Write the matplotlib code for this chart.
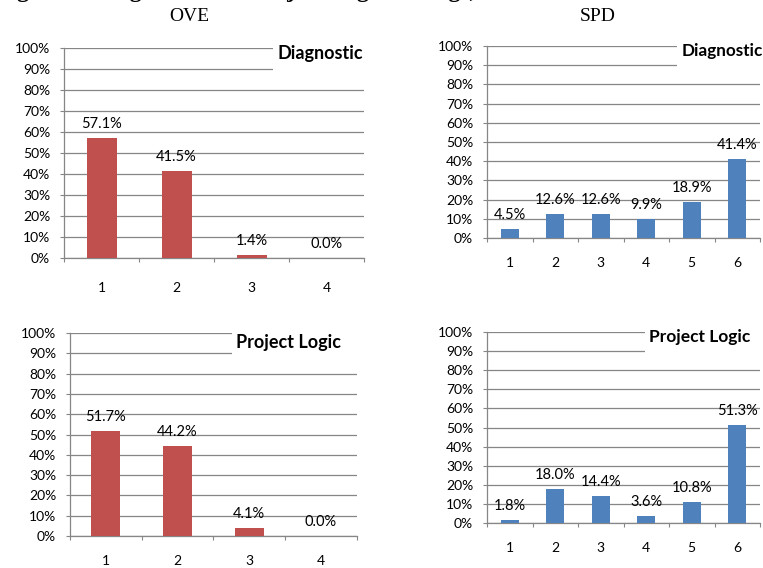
import matplotlib
matplotlib.use('Agg')
import matplotlib.pyplot as plt
from matplotlib.patches import Rectangle
import numpy as np

plt.rcParams['font.family'] = ['Lato', 'DejaVu Sans']

# rating shares (%) per score category
ove_cats = ['1', '2', '3', '4']
spd_cats = ['1', '2', '3', '4', '5', '6']
ove_diagnostic = [57.1, 41.5, 1.4, 0.0]
ove_logic = [51.7, 44.2, 4.1, 0.0]
spd_diagnostic = [4.5, 12.6, 12.6, 9.9, 18.9, 41.4]
spd_logic = [1.8, 18.0, 14.4, 3.6, 10.8, 51.3]
y_ticks = list(range(0, 101, 10))

RED = '#C0504D'
BLUE = '#4F81BD'
GRID = '#868686'


def panel(rect, cats, vals, color, label, box_x, label_y, xpad, label_size):
    ax = fig.add_axes(rect)
    n = len(cats)
    x = np.arange(1, n + 1)
    ax.bar(x, vals, width=0.4, color=color, zorder=3)
    for xi, v in zip(x, vals):
        ax.annotate(f'{v:.1f}%', (xi, v), xytext=(0, 5), textcoords='offset points',
                    ha='center', va='bottom', fontsize=10.5, color='black', zorder=4)
    ax.set_xlim(0.5, n + 0.5)
    ax.set_ylim(0, 100)
    ax.set_yticks(y_ticks)
    ax.set_yticklabels([f'{t}%' for t in y_ticks])
    # tick marks sit between categories, labels in the middle
    ax.set_xticks(np.arange(0.5, n + 1, 1.0))
    ax.set_xticklabels([])
    ax.set_xticks(x, minor=True)
    ax.set_xticklabels(cats, minor=True)
    ax.tick_params(axis='x', which='major', direction='out', length=3, color=GRID)
    ax.tick_params(axis='x', which='minor', length=0, pad=xpad, labelsize=10)
    ax.tick_params(axis='y', direction='out', length=3, color=GRID, pad=7, labelsize=10)
    ax.set_axisbelow(True)
    ax.grid(axis='y', color=GRID, linewidth=0.9)
    for s in ['top', 'right']:
        ax.spines[s].set_visible(False)
    for s in ['left', 'bottom']:
        ax.spines[s].set_color(GRID)
        ax.spines[s].set_linewidth(0.9)
    # white title box over the top gridlines
    ax.add_patch(Rectangle((box_x, 0.86), 1.1 - box_x, 0.2, transform=ax.transAxes,
                           facecolor='white', edgecolor='none', zorder=2, clip_on=False))
    ax.text(box_x + 0.016, label_y, label, transform=ax.transAxes, fontsize=label_size,
            fontweight='bold', ha='left', va='center', zorder=4)
    return ax


fig = plt.figure(figsize=(7.63, 5.68), dpi=100)

panel([0.0839, 0.5458, 0.3932, 0.3697], ove_cats, ove_diagnostic, RED, 'Diagnostic', 0.697, 0.976, 17, 13)
panel([0.6383, 0.5810, 0.3578, 0.3380], spd_cats, spd_diagnostic, BLUE, 'Diagnostic', 0.696, 0.974, 14, 12.3)
panel([0.0917, 0.0563, 0.3761, 0.3574], ove_cats, ove_logic, RED, 'Project Logic', 0.564, 0.951, 14, 13)
panel([0.6383, 0.0792, 0.3578, 0.3363], spd_cats, spd_logic, BLUE, 'Project Logic', 0.579, 0.974, 14, 12.5)

serif = ['Liberation Serif', 'DejaVu Serif']
fig.text(-0.005, 1 + 3 / 568, 'Figure 5: Diagnostic and Project Logic Ratings, OVE and SPD',
         fontsize=17, fontweight='bold', family=serif, ha='left', va='baseline')
fig.text(189 / 763, 1 - 16.5 / 568, 'OVE', fontsize=14, family=serif, ha='center', va='center')
fig.text(598 / 763, 1 - 16.5 / 568, 'SPD', fontsize=14, family=serif, ha='center', va='center')

fig.savefig('out.png', dpi=100)
